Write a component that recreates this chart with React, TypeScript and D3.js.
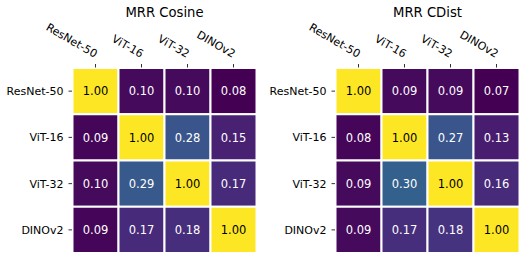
import * as d3 from 'd3'

const models = ['ResNet-50', 'ViT-16', 'ViT-32', 'DINOv2']

const cosineValues = [
  [1.0, 0.1, 0.1, 0.08],
  [0.09, 1.0, 0.28, 0.15],
  [0.1, 0.29, 1.0, 0.17],
  [0.09, 0.17, 0.18, 1.0],
]

const cdistValues = [
  [1.0, 0.09, 0.09, 0.07],
  [0.08, 1.0, 0.27, 0.13],
  [0.09, 0.3, 1.0, 0.16],
  [0.09, 0.17, 0.18, 1.0],
]

const panels = [
  { title: 'MRR Cosine', values: cosineValues, left: 72.5 },
  { title: 'MRR CDist', values: cdistValues, left: 335.5 },
]

const FONT = 'DejaVu Sans, sans-serif'
const TOP = 68
const SIZE_W = 184
const SIZE_H = 185

function Heatmap({ title, values, left }: { title: string; values: number[][]; left: number }) {
  const x = d3.scaleBand().domain(models).range([left, left + SIZE_W])
  const y = d3.scaleBand().domain(models).range([TOP, TOP + SIZE_H])
  const cx = (m: string) => (x(m) ?? 0) + x.bandwidth() / 2
  const cy = (m: string) => (y(m) ?? 0) + y.bandwidth() / 2

  // colour range saturates a bit below the diagonal 1.00 values
  const vmin = d3.min(values.flat()) ?? 0
  const color = d3.scaleSequential(d3.interpolateViridis).domain([vmin, vmin + 0.76]).clamp(true)

  return (
    <g>
      <text x={left + SIZE_W / 2} y={17} textAnchor="middle" fontSize={13.2} fontFamily={FONT} fill="#000">
        {title}
      </text>
      {values.map((row, i) =>
        row.map((v, j) => {
          const fill = color(v)
          const light = d3.hsl(fill).l > 0.5
          return (
            <g key={`${i}-${j}`}>
              <rect
                x={x(models[j])}
                y={y(models[i])}
                width={x.bandwidth()}
                height={y.bandwidth()}
                fill={fill}
                stroke="#fff"
                strokeWidth={2}
              />
              <text
                x={cx(models[j])}
                y={cy(models[i])}
                dy="0.36em"
                textAnchor="middle"
                fontSize={11.5}
                fontFamily={FONT}
                fill={light ? '#000' : '#fff'}
              >
                {v.toFixed(2)}
              </text>
            </g>
          )
        })
      )}
      {models.map((m) => (
        <g key={`col-${m}`}>
          <line x1={cx(m)} x2={cx(m)} y1={TOP - 0.5} y2={TOP - 4} stroke="#000" strokeWidth={0.8} />
          <text
            transform={`translate(${cx(m) - 1},${TOP - 10}) rotate(30)`}
            textAnchor="end"
            fontSize={11}
            fontFamily={FONT}
            fill="#000"
          >
            {m}
          </text>
        </g>
      ))}
      {models.map((m) => (
        <g key={`row-${m}`}>
          <line x1={left - 0.5} x2={left - 4} y1={cy(m)} y2={cy(m)} stroke="#000" strokeWidth={0.8} />
          <text
            x={left - 9}
            y={cy(m)}
            dy="0.36em"
            textAnchor="end"
            fontSize={11}
            fontFamily={FONT}
            fill="#000"
          >
            {m}
          </text>
        </g>
      ))}
    </g>
  )
}

export default function App() {
  return (
    <svg width={528} height={261} style={{ position: 'absolute', left: 0, top: 0, background: '#fff' }}>
      {panels.map((p) => (
        <Heatmap key={p.title} title={p.title} values={p.values} left={p.left} />
      ))}
    </svg>
  )
}
